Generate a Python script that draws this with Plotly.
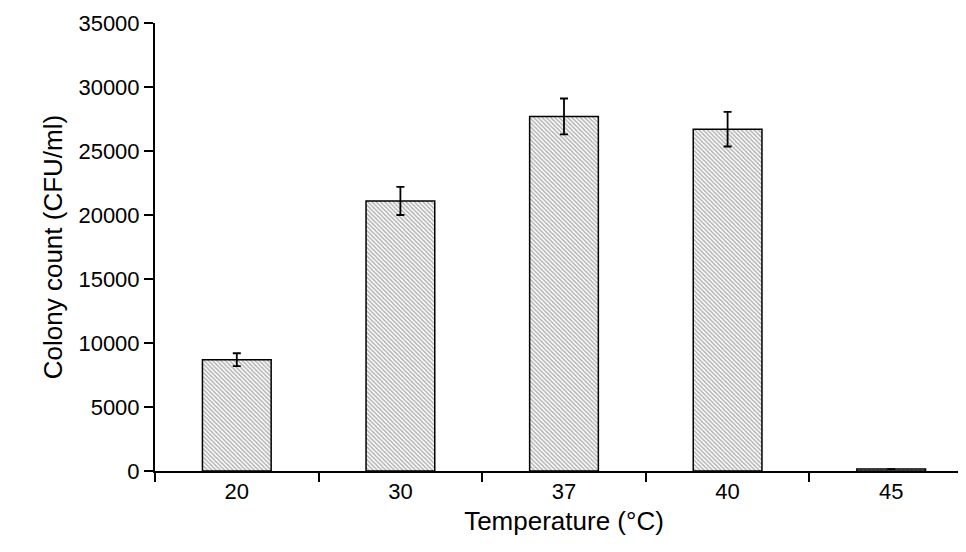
import plotly.graph_objects as go

temps = ["20", "30", "37", "40", "45"]
counts = [8700, 21100, 27700, 26700, 150]
errors = [500, 1100, 1400, 1350, 0]

fig = go.Figure(go.Bar(
    x=temps, y=counts, width=0.42,
    error_y=dict(type="data", array=errors, color="black", thickness=1.8, width=4),
    marker=dict(color="white", line=dict(color="black", width=1.5),
                pattern=dict(shape="\\", fgcolor="#666666", bgcolor="white", size=3, solidity=0.5)),
))
font = dict(family="Liberation Sans, Arial", size=22, color="black")
fig.update_layout(
    width=966, height=552, margin=dict(l=147, r=1, t=15, b=89),
    plot_bgcolor="white", paper_bgcolor="white", showlegend=False, font=font,
    xaxis=dict(title=dict(text="Temperature (°C)", standoff=8), showline=True, linecolor="black", linewidth=2,
               ticks="outside", tickson="boundaries", ticklen=9, tickwidth=2, tickcolor="black",
               automargin=False),
    yaxis=dict(title=dict(text="Colony count (CFU/ml)", standoff=8), range=[0, 35000], dtick=5000,
               tickformat="d", showline=True, linecolor="black", linewidth=2, ticks="outside", ticklen=9,
               tickwidth=2, tickcolor="black", showgrid=False, zeroline=False, automargin=False),
)
fig.write_html("out.html")
